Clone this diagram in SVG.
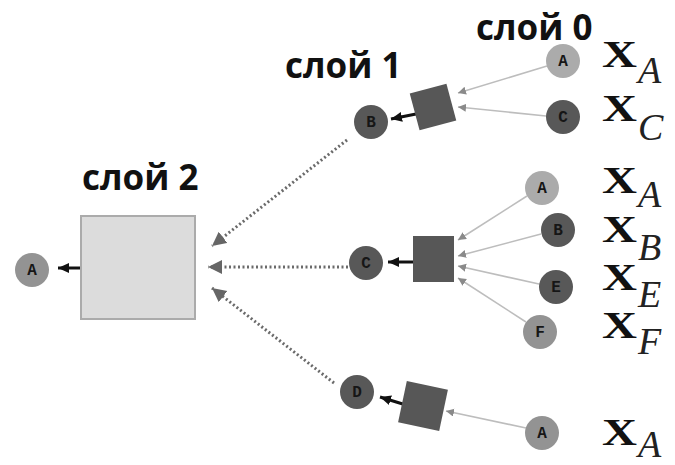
<svg xmlns="http://www.w3.org/2000/svg" width="675" height="465" viewBox="0 0 675 465">
<style>
.lbl{font-family:"Open Sans","Liberation Sans",sans-serif;font-weight:bold;font-size:35px;fill:#111}
.nl{font-family:"Liberation Mono","DejaVu Sans Mono",monospace;font-weight:bold;font-size:16px;fill:#161616;text-anchor:middle}
.light{fill:#ababab}
.mid{fill:#939393}
.dark{fill:#585858}
.fac{fill:#575757}
.xb{font-family:"Liberation Serif","DejaVu Serif",serif;font-weight:bold;font-size:37px;fill:#111}
.sub{font-family:"Liberation Serif","DejaVu Serif",serif;font-style:italic;font-size:38px;fill:#222}
.thin{stroke:#bdbdbd;stroke-width:1.6;fill:none;marker-end:url(#ga)}
.blk{stroke:#111;stroke-width:3;fill:none;marker-end:url(#ba)}
.dot{stroke:#6a6a6a;stroke-width:3;stroke-dasharray:2 2.5;fill:none;marker-end:url(#da)}
</style>
<defs>
<marker id="ga" markerUnits="userSpaceOnUse" markerWidth="10" markerHeight="10" refX="8" refY="4" orient="auto"><path d="M0,0 L8,4 L0,8 Z" fill="#8a8a8a"/></marker>
<marker id="ba" markerUnits="userSpaceOnUse" markerWidth="14" markerHeight="14" refX="11" refY="5" orient="auto"><path d="M0,0 L11,5 L0,10 Z" fill="#111"/></marker>
<marker id="da" markerUnits="userSpaceOnUse" markerWidth="18" markerHeight="18" refX="14" refY="7" orient="auto"><path d="M0,0 L14,7 L0,14 Z" fill="#666"/></marker>
</defs>

<text class="lbl" x="82" y="190">слой 2</text>
<text class="lbl" x="285" y="78">слой 1</text>
<text class="lbl" x="476" y="40">слой 0</text>

<g id="connectors">
<line class="blk" x1="81" y1="268" x2="58" y2="268"/>
<line class="dot" x1="347" y1="140" x2="212" y2="246"/>
<line class="dot" x1="348" y1="267" x2="208" y2="267"/>
<line class="dot" x1="334" y1="383" x2="212" y2="288"/>
<line class="blk" x1="416" y1="114" x2="391" y2="119"/>
<line class="blk" x1="414" y1="262" x2="388" y2="262"/>
<line class="blk" x1="406" y1="405" x2="380" y2="397"/>
<line class="thin" x1="547" y1="66" x2="458" y2="93"/>
<line class="thin" x1="546" y1="116" x2="458" y2="107"/>
<line class="thin" x1="527" y1="196" x2="458" y2="240"/>
<line class="thin" x1="541" y1="234" x2="458" y2="256"/>
<line class="thin" x1="539" y1="284" x2="458" y2="266"/>
<line class="thin" x1="526" y1="322" x2="458" y2="278"/>
<line class="thin" x1="526" y1="428" x2="446" y2="411"/>
</g>

<g id="l2-A"><circle class="mid" cx="32" cy="270" r="17"/><text class="nl" x="32" y="275">A</text></g>
<g id="l2-factor"><rect x="81" y="216" width="114" height="103" fill="#dcdcdc" stroke="#ababab" stroke-width="2"/></g>

<g id="l1-B"><circle class="dark" cx="371" cy="122" r="17"/><text class="nl" x="371" y="127">B</text></g>
<g id="l1-fB"><rect class="fac" x="414" y="88" width="38" height="38" transform="rotate(-15 433 107)"/></g>
<g id="l1-C"><circle class="dark" cx="366" cy="263" r="17"/><text class="nl" x="366" y="268">C</text></g>
<g id="l1-fC"><rect class="fac" x="413" y="236" width="41" height="46"/></g>
<g id="l1-D"><circle class="dark" cx="357" cy="392" r="17"/><text class="nl" x="357" y="397">D</text></g>
<g id="l1-fD"><rect class="fac" x="402" y="385" width="42" height="42" transform="rotate(12 423 406)"/></g>

<g id="l0-A1"><circle class="light" cx="563" cy="61" r="17"/><text class="nl" x="563" y="66">A</text></g>
<g id="l0-C1"><circle class="dark" cx="563" cy="117" r="17"/><text class="nl" x="563" y="122">C</text></g>
<g id="l0-A2"><circle class="light" cx="542" cy="188" r="17"/><text class="nl" x="542" y="193">A</text></g>
<g id="l0-B2"><circle class="dark" cx="558" cy="230" r="17"/><text class="nl" x="558" y="235">B</text></g>
<g id="l0-E2"><circle class="dark" cx="556" cy="287" r="17"/><text class="nl" x="556" y="292">E</text></g>
<g id="l0-F2"><circle class="mid" cx="540" cy="332" r="17"/><text class="nl" x="540" y="337">F</text></g>
<g id="l0-A3"><circle class="mid" cx="542" cy="433" r="17"/><text class="nl" x="542" y="438">A</text></g>

<g id="labels">
<text class="xb" x="602" y="67" textLength="35" lengthAdjust="spacingAndGlyphs">X</text><text class="sub" x="638" y="83">A</text>
<text class="xb" x="602" y="121" textLength="35" lengthAdjust="spacingAndGlyphs">X</text><text class="sub" x="638" y="140">C</text>
<text class="xb" x="602" y="193" textLength="35" lengthAdjust="spacingAndGlyphs">X</text><text class="sub" x="638" y="207">A</text>
<text class="xb" x="602" y="242" textLength="35" lengthAdjust="spacingAndGlyphs">X</text><text class="sub" x="638" y="260">B</text>
<text class="xb" x="602" y="290" textLength="35" lengthAdjust="spacingAndGlyphs">X</text><text class="sub" x="638" y="307">E</text>
<text class="xb" x="602" y="338" textLength="35" lengthAdjust="spacingAndGlyphs">X</text><text class="sub" x="638" y="354">F</text>
<text class="xb" x="602" y="445" textLength="35" lengthAdjust="spacingAndGlyphs">X</text><text class="sub" x="638" y="457">A</text>
</g>
</svg>
